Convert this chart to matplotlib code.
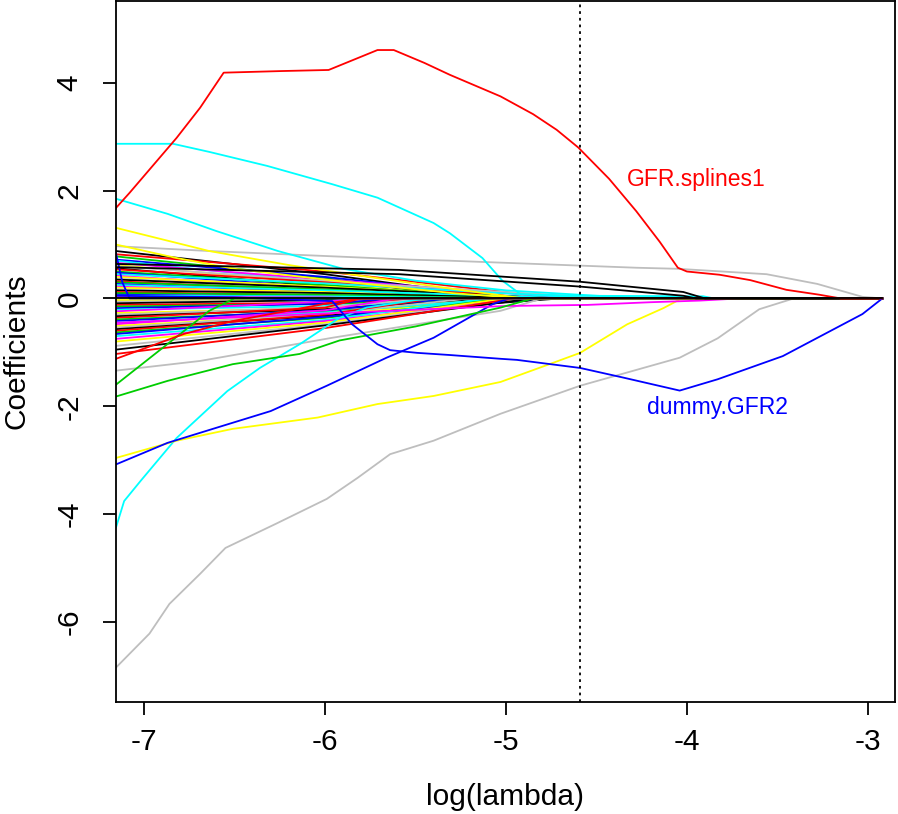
import matplotlib
matplotlib.use('Agg')
import matplotlib.pyplot as plt

plt.rcParams['font.family'] = ['Liberation Sans', 'DejaVu Sans']
plt.rcParams['axes.unicode_minus'] = False

# old R palette, cycled by matplot
r_cols = ['black', '#FF0000', '#00CD00', '#0000FF', '#00FFFF', '#FF00FF', '#FFFF00', '#BEBEBE']

lam_left = -7.155
lam_right = -2.92
lam_cv = -4.59

# small coefficients: value at left end, value at log(lambda)=-6, log(lambda) where they hit 0
bundle_start = [0.88, 0.82, 0.78, 0.72, 0.70, 0.66, 0.62, 0.60, 0.56, 0.54,
                0.50, 0.48, 0.45, 0.42, 0.40, 0.37, 0.35, 0.32, 0.30, 0.27,
                0.25, 0.22, 0.20, 0.17, 0.15, 0.12, 0.10, 0.07, 0.05, 0.03,
                -0.03, -0.06, -0.09, -0.12, -0.15, -0.18, -0.21, -0.24, -0.27, -0.30,
                -0.33, -0.36, -0.39, -0.42, -0.45, -0.48, -0.51, -0.54, -0.57, -0.60,
                -0.63, -0.66, -0.70, -0.75, -0.80, -0.88, -0.95, -1.03]
bundle_mid = [0.45, 0.50, 0.38, 0.40, 0.30, 0.35, 0.28, 0.32, 0.22, 0.30,
              0.25, 0.20, 0.28, 0.18, 0.22, 0.15, 0.20, 0.14, 0.17, 0.12,
              0.15, 0.10, 0.12, 0.05, 0.10, 0.06, 0.07, 0.03, 0.04, 0.02,
              -0.02, -0.04, -0.03, -0.08, -0.10, -0.10, -0.14, -0.06, -0.18, -0.16,
              -0.20, -0.17, -0.24, -0.22, -0.26, -0.22, -0.30, -0.28, -0.32, -0.30,
              -0.36, -0.34, -0.40, -0.42, -0.45, -0.48, -0.50, -0.55]
bundle_zero = [-5.0, -4.7, -5.2, -4.9, -5.4, -4.6, -5.1, -4.4, -5.5, -4.8,
               -5.0, -5.3, -4.5, -5.6, -4.9, -5.2, -4.7, -5.8, -5.0, -5.4,
               -4.6, -5.7, -5.1, -5.75, -4.8, -5.5, -5.0, -5.9, -4.9, -5.8,
               -5.6, -4.8, -5.9, -5.2, -4.7, -5.6, -5.0, -5.85, -4.9, -5.4,
               -5.1, -5.8, -4.8, -5.3, -5.0, -5.6, -4.9, -5.2, -4.7, -5.4,
               -5.0, -4.8, -5.1, -4.9, -5.0, -4.9, -4.85, -4.95]

# larger coefficient paths
splines1_x = [-7.155, -7.08, -6.82, -6.69, -6.56, -6.24, -5.98, -5.71, -5.62, -5.45, -5.31, -5.03,
              -4.85, -4.72, -4.60, -4.43, -4.28, -4.15, -4.05, -4.00, -3.82, -3.65, -3.45, -3.27,
              -3.15, -2.92]
splines1_y = [1.68, 1.96, 2.98, 3.54, 4.19, 4.22, 4.24, 4.61, 4.61, 4.37, 4.15, 3.75,
              3.42, 3.13, 2.80, 2.22, 1.62, 1.05, 0.57, 0.50, 0.44, 0.34, 0.16, 0.07,
              0.0, 0.0]
gfr2_x = [-7.155, -6.5, -5.96, -5.85, -5.71, -5.64, -5.49, -5.31, -5.03, -4.94, -4.59,
          -4.35, -4.04, -3.83, -3.47, -3.03, -2.92]
gfr2_y = [0.05, 0.02, -0.05, -0.48, -0.85, -0.96, -1.01, -1.05, -1.12, -1.14, -1.29,
          -1.47, -1.71, -1.50, -1.07, -0.29, 0.0]
gray_top_x = [-7.155, -6.64, -5.53, -5.31, -4.28, -4.05, -3.56, -3.28, -3.03, -2.92]
gray_top_y = [0.97, 0.88, 0.72, 0.70, 0.57, 0.55, 0.45, 0.27, 0.03, 0.0]
gray_low_x = [-7.155, -6.97, -6.86, -6.69, -6.55, -6.27, -5.99, -5.82, -5.64, -5.40, -5.03,
              -4.59, -4.04, -3.83, -3.60, -3.41]
gray_low_y = [-6.85, -6.22, -5.67, -5.11, -4.63, -4.18, -3.72, -3.33, -2.89, -2.64, -2.14,
              -1.62, -1.10, -0.74, -0.20, 0.0]
gray_mid_x = [-7.155, -6.69, -5.96, -5.03, -4.8]
gray_mid_y = [-1.34, -1.16, -0.73, -0.23, 0.0]
cyan_top_x = [-7.155, -6.84, -6.64, -6.32, -5.96, -5.71, -5.40, -5.31, -5.13, -5.02, -4.92, -4.6, -3.91, -3.85]
cyan_top_y = [2.87, 2.87, 2.72, 2.46, 2.12, 1.87, 1.40, 1.21, 0.75, 0.33, 0.08, 0.05, 0.04, 0.0]
cyan_mid_x = [-7.155, -6.87, -6.6, -6.26, -5.9, -5.5, -5.0, -4.5, -4.2]
cyan_mid_y = [1.85, 1.57, 1.25, 0.88, 0.55, 0.33, 0.15, 0.05, 0.0]
cyan_low_x = [-7.155, -7.11, -7.02, -6.82, -6.54, -6.36, -6.14, -5.92, -5.77, -5.5, -5.35]
cyan_low_y = [-4.25, -3.76, -3.39, -2.59, -1.72, -1.29, -0.85, -0.36, -0.17, -0.03, 0.0]
yellow_top_x = [-7.155, -6.64, -6.2, -5.8, -5.3, -4.9]
yellow_top_y = [1.31, 0.88, 0.62, 0.42, 0.18, 0.0]
yellow_mid_x = [-7.155, -6.82, -6.5, -6.0, -5.3, -4.9]
yellow_mid_y = [1.0, 0.75, 0.55, 0.35, 0.1, 0.0]
yellow_low_x = [-7.155, -6.82, -6.51, -6.04, -5.71, -5.40, -5.03, -4.76, -4.59, -4.33, -4.13, -4.04, -3.98]
yellow_low_y = [-2.96, -2.64, -2.42, -2.21, -1.96, -1.81, -1.55, -1.22, -1.01, -0.48, -0.18, -0.02, 0.0]
blue_low_x = [-7.155, -6.87, -6.60, -6.30, -5.99, -5.66, -5.40, -5.07, -4.98]
blue_low_y = [-3.08, -2.68, -2.40, -2.09, -1.62, -1.10, -0.73, -0.10, 0.0]
blue_top_x = [-7.155, -7.12, -7.08]
blue_top_y = [0.84, 0.3, 0.0]
black_a_x = [-7.155, -5.59, -4.59, -4.02, -3.9]
black_a_y = [0.64, 0.53, 0.31, 0.12, 0.0]
black_b_x = [-7.155, -5.59, -4.59, -4.02, -3.95]
black_b_y = [0.58, 0.45, 0.22, 0.05, 0.0]
magenta_x = [-7.155, -6.0, -5.0, -4.55, -4.2, -3.93, -3.71]
magenta_y = [-0.45, -0.28, -0.14, -0.12, -0.07, -0.04, 0.0]
green_a_x = [-7.155, -6.80, -6.64, -6.5]
green_a_y = [-1.60, -0.66, -0.23, 0.0]
green_b_x = [-7.155, -6.87, -6.51, -6.14, -5.92, -5.5, -5.03, -4.85]
green_b_y = [-1.82, -1.53, -1.22, -1.03, -0.78, -0.52, -0.17, 0.0]
red_low_x = [-7.155, -6.78, -6.51, -6.0, -5.8]
red_low_y = [-1.12, -0.66, -0.42, -0.10, 0.0]

paths = [
    (gray_top_x, gray_top_y, r_cols[7]),
    (gray_mid_x, gray_mid_y, r_cols[7]),
    (gray_low_x, gray_low_y, r_cols[7]),
    (cyan_top_x, cyan_top_y, r_cols[4]),
    (cyan_mid_x, cyan_mid_y, r_cols[4]),
    (cyan_low_x, cyan_low_y, r_cols[4]),
    (yellow_top_x, yellow_top_y, r_cols[6]),
    (yellow_mid_x, yellow_mid_y, r_cols[6]),
    (yellow_low_x, yellow_low_y, r_cols[6]),
    (blue_low_x, blue_low_y, r_cols[3]),
    (blue_top_x, blue_top_y, r_cols[3]),
    (magenta_x, magenta_y, r_cols[5]),
    (green_a_x, green_a_y, r_cols[2]),
    (green_b_x, green_b_y, r_cols[2]),
    (red_low_x, red_low_y, r_cols[1]),
    (black_a_x, black_a_y, r_cols[0]),
    (black_b_x, black_b_y, r_cols[0]),
    (gfr2_x, gfr2_y, r_cols[3]),
    (splines1_x, splines1_y, r_cols[1]),
]

fig = plt.figure(figsize=(8.98, 8.14), dpi=100)
ax = fig.add_axes([116 / 898, 1 - 701.5 / 814, (895 - 116) / 898, (701.5 - 1) / 814])

lw = 1.3
for i, (s, m, z) in enumerate(zip(bundle_start, bundle_mid, bundle_zero)):
    ax.plot([lam_left, -6.0, z, lam_right], [s, m, 0, 0], color=r_cols[i % 8], lw=lw)

for px, py, c in paths:
    ax.plot(px + [lam_right], py + [0], color=c, lw=lw)

# coefficient that stays at zero
ax.plot([lam_left, lam_right], [0, 0], color='black', lw=lw)

ax.axvline(lam_cv, color='black', lw=1.3, linestyle=(0, (1.5, 2.2)))

ax.text(-4.33, 2.2, 'GFR.splines1', color='#FF0000', fontsize=16.5, va='center', ha='left')
ax.text(-4.22, -2.03, 'dummy.GFR2', color='#0000FF', fontsize=16.5, va='center', ha='left')

ax.set_xlim(-7.155, -2.85)
ax.set_ylim(-7.48, 5.52)
ax.set_xticks([-7, -6, -5, -4, -3])
ax.set_yticks([-6, -4, -2, 0, 2, 4])
ax.tick_params(direction='out', length=9.4, width=1.3, labelsize=21.5, color='black')
ax.tick_params(axis='x', pad=10)
ax.tick_params(axis='y', pad=14)
for lab in ax.get_yticklabels():
    lab.set_rotation(90)
    lab.set_va('center')
for sp in ax.spines.values():
    sp.set_linewidth(1.3)

fig.text(505.5 / 898, 1 - 797 / 814, 'log(lambda)', ha='center', va='center', fontsize=21.5)
fig.text(17 / 898, 1 - 351 / 814, 'Coefficients', ha='center', va='center', rotation=90, fontsize=21.5)

fig.savefig('out.png', dpi=100)
